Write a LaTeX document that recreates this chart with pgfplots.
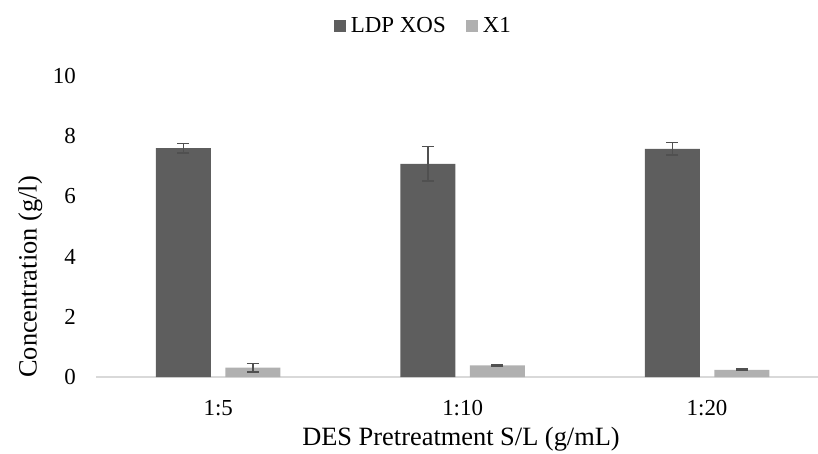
\documentclass[border=0pt]{standalone}
\usepackage{pgfplots}
\pgfplotsset{compat=1.18}
\usepackage{fontspec}
\setmainfont{Liberation Serif}
\definecolor{dark}{HTML}{5E5E5E}
\definecolor{light}{HTML}{B0B0B0}
\definecolor{errc}{HTML}{505050}
\definecolor{axc}{HTML}{D9D9D9}
\begin{document}
\begin{tikzpicture}
\useasboundingbox (0,0) rectangle (818bp,454bp);
\begin{axis}[
  at={(96bp,77bp)}, anchor=south west,
  scale only axis, width=722bp, height=301bp,
  xmin=-0.5, xmax=2.454, ymin=0, ymax=10,
  ybar=14.5bp, bar width=55bp,
  axis x line*=bottom, axis y line*=left,
  x axis line style={draw=axc, line width=1.2bp, -},
  y axis line style={draw=none},
  major tick length=0pt,
  xtick={0,1,2}, xticklabels={1:5,1:10,1:20},
  ytick={0,2,4,6,8,10},
  /pgf/number format/assume math mode=true,
  tick label style={font=\fontsize{23}{27}\selectfont},
  yticklabel style={anchor=east, inner sep=0pt, xshift=-20bp},
  xticklabel style={anchor=base, inner sep=0pt, yshift=-38bp},
  legend columns=2,
  legend style={at={(0.452,1.166)}, anchor=center, draw=none, fill=none,
    font=\fontsize{23}{27}\selectfont, inner sep=0pt,
    nodes={inner sep=0pt},
    /tikz/every odd column/.append style={column sep=5bp},
    /tikz/every even column/.append style={column sep=20bp}},
  legend image code/.code={\fill[#1] (0bp,-6bp) rectangle (12bp,6bp);},
  clip=false,
]
\addplot[fill=dark, draw=none,
  error bars/.cd, y dir=both, y explicit,
  error bar style={line width=1.5bp, errc},
  error mark options={rotate=90, mark size=6bp, line width=1.5bp, errc}]
  coordinates {(0,7.60) +- (0,0.16) (1,7.08) +- (0,0.57) (2,7.58) +- (0,0.21)};
\addlegendentry{LDP XOS}
\addplot[fill=light, draw=none,
  error bars/.cd, y dir=both, y explicit,
  error bar style={line width=1.5bp, errc},
  error mark options={rotate=90, mark size=6bp, line width=1.5bp, errc}]
  coordinates {(0,0.31) +- (0,0.145) (1,0.39) +- (0,0.03) (2,0.24) +- (0,0.03)};
\addlegendentry{X1}
\end{axis}
\node[anchor=base, inner sep=0pt, font=\fontsize{26.5}{31}\selectfont] at (461bp,9bp) {DES Pretreatment S/L (g/mL)};
\node[anchor=base, inner sep=0pt, rotate=90, font=\fontsize{26.5}{31}\selectfont] at (36.7bp,177bp) {Concentration (g/l)};
\end{tikzpicture}
\end{document}
